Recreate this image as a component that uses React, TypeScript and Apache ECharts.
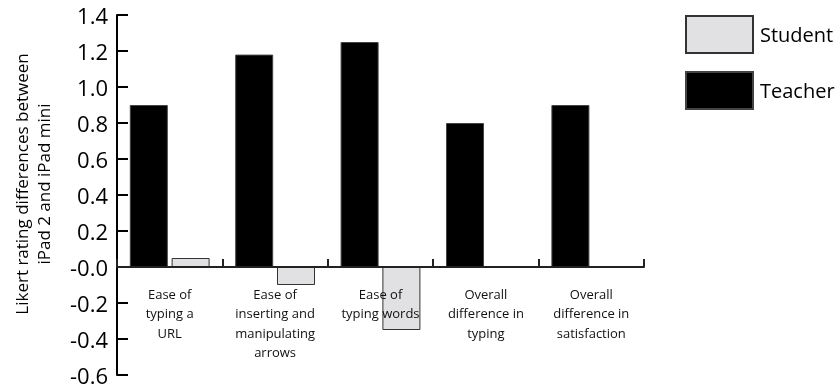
import React, { useEffect, useRef } from "react";
import * as echarts from "echarts";

const categories = [
  "Ease of\ntyping a\nURL",
  "Ease of\ninserting and\nmanipulating\narrows",
  "Ease of\ntyping words",
  "Overall\ndifference in\ntyping",
  "Overall\ndifference in\nsatisfaction",
];
const teacherValues = [0.9, 1.18, 1.25, 0.8, 0.9];
const studentValues = [0.05, -0.1, -0.35, 0, 0];
const yMin = -0.6;
const yMax = 1.4;
const yInterval = 0.2;
const yAxisTitle = "Likert rating differences between\niPad 2 and iPad mini";
const FONT = "Open Sans";

export default function App() {
  const ref = useRef<HTMLDivElement>(null);
  useEffect(() => {
    if (!ref.current) return;
    const chart = echarts.init(ref.current, undefined, { renderer: "svg" });
    chart.setOption({
      animation: false,
      textStyle: { fontFamily: FONT },
      grid: { left: 117, right: 194, top: 15, bottom: 12, containLabel: false, outerBoundsMode: "none" },
      legend: {
        orient: "vertical",
        left: 685,
        top: 15,
        padding: 0,
        itemWidth: 67,
        itemHeight: 37,
        itemGap: 17,
        icon: "rect",
        data: ["Student", "Teacher"],
        textStyle: { fontSize: 20, color: "#000", fontFamily: FONT, padding: [0, 0, 0, 2] },
      },
      xAxis: {
        type: "category",
        data: categories,
        z: 5,
        axisLine: { onZero: true, lineStyle: { color: "#222", width: 2 } },
        axisTick: { show: true, inside: true, length: 8, alignWithLabel: false, lineStyle: { color: "#222", width: 2 } },
        axisLabel: {
          interval: 0,
          fontSize: 13,
          lineHeight: 19.5,
          color: "#111",
          margin: -91,
          fontFamily: FONT,
        },
      },
      yAxis: {
        type: "value",
        min: yMin,
        max: yMax,
        interval: yInterval,
        splitLine: { show: false },
        axisLine: { show: true, onZero: false, lineStyle: { color: "#000", width: 2 } },
        axisTick: { show: true, inside: true, length: 11, lineStyle: { color: "#000", width: 2 } },
        axisLabel: {
          fontSize: 22,
          lineHeight: 20,
          color: "#000",
          margin: 9,
          fontFamily: FONT,
          formatter: (v: number) => (Math.abs(v) < 1e-9 ? "-0.0" : v.toFixed(1)),
        },
      },
      graphic: [
        {
          type: "text",
          x: 32,
          y: 184,
          rotation: Math.PI / 2,
          style: {
            text: yAxisTitle,
            align: "center",
            verticalAlign: "middle",
            fontSize: 17,
            lineHeight: 22,
            fontFamily: FONT,
            fill: "#000",
          },
        },
      ],
      series: [
        {
          name: "Teacher",
          type: "bar",
          data: teacherValues,
          barWidth: 38,
          barGap: "10%",
          itemStyle: { color: "#000", borderColor: "#444", borderWidth: 1 },
        },
        {
          name: "Student",
          type: "bar",
          data: studentValues,
          barWidth: 38,
          barGap: "10%",
          itemStyle: { color: "#e1e1e3", borderColor: "#333", borderWidth: 1 },
        },
      ],
    });
    return () => chart.dispose();
  }, []);
  return (
    <div
      ref={ref}
      style={{ position: "fixed", left: 0, top: 0, width: 838, height: 387 }}
    />
  );
}
